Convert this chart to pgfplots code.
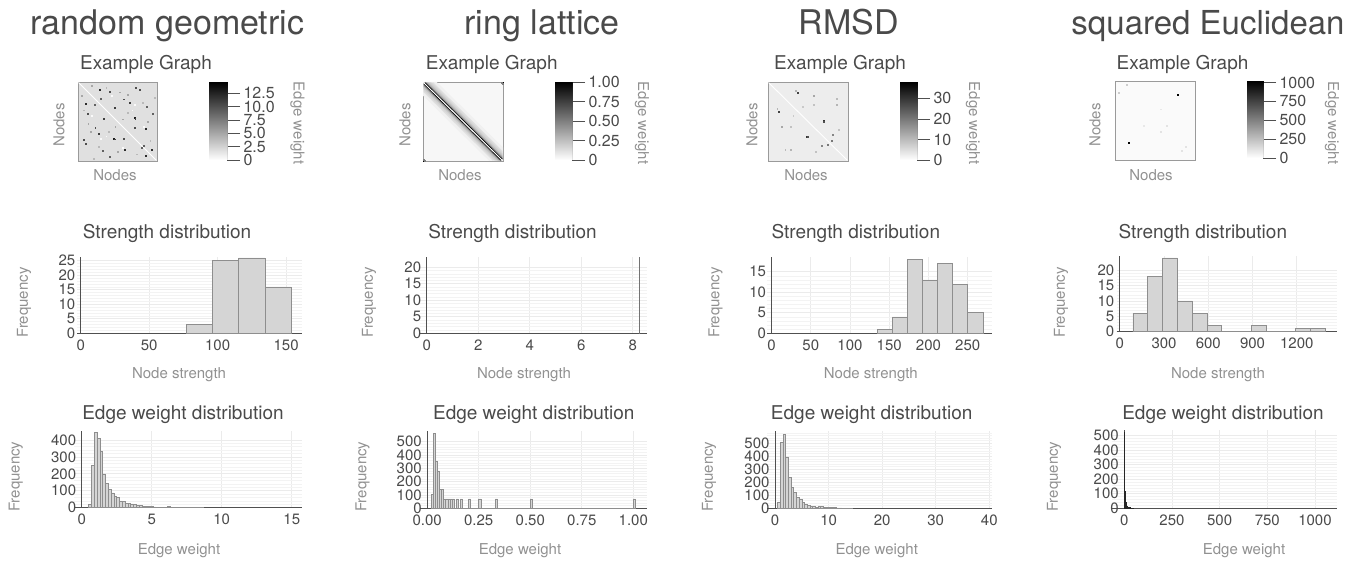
\documentclass[border=0pt]{standalone}
\usepackage{pgfplots}
\pgfplotsset{compat=1.18}
\usepackage{fontspec}
\setmainfont{TeX Gyre Heros}
\definecolor{ttl}{HTML}{4A4A4A}
\definecolor{lab}{HTML}{919191}
\definecolor{tkl}{HTML}{4A4A4A}
\definecolor{barfill}{HTML}{D5D5D5}
\definecolor{baredge}{HTML}{8E8E8E}
\definecolor{gridc}{HTML}{EBEBEB}
\definecolor{axc}{HTML}{505050}
\definecolor{frm}{HTML}{9A9A9A}
\newcommand{\fs}[1]{\fontsize{#1}{#1}\selectfont}
\pgfplotsset{
  every axis/.append style={/pgf/number format/assume math mode=true, /pgf/number format/1000 sep={}, scaled ticks=false},
  hist/.style={scale only axis, anchor=south west, axis lines=middle,
    hide obscured x ticks=false, hide obscured y ticks=false,
    axis line style={-, draw=axc, line width=0.9pt},
    every inner x axis line/.append style={-}, every inner y axis line/.append style={-},
    ymin=0, major tick length=0pt, minor tick length=0pt,
    xmajorgrids, ymajorgrids, yminorgrids, minor y tick num=4,
    major grid style={draw=gridc, line width=0.7pt},
    minor grid style={draw=gridc!60, line width=0.5pt},
    tick label style={font=\fs{15}, text=tkl},
    xticklabel style={yshift=-3pt}, yticklabel style={xshift=-2pt}},
  bars/.style={ybar interval, fill=barfill, draw=baredge, line width=0.6pt},
  heat/.style={scale only axis, anchor=south west, xmin=0, xmax=70, ymin=0, ymax=70, y dir=reverse, ticks=none,
    axis line style={draw=frm, line width=0.8pt}, colormap={bw}{color=(white) color=(black)}, point meta min=0},
  dots/.style={scatter, only marks, mark=square*, mark size=0.45pt, point meta=explicit,
    scatter/use mapped color={draw=mapped color, fill=mapped color}},
  cbar/.style={scale only axis, anchor=south west, xmin=0, xmax=1, ymin=0, axis x line=none, axis y line=right,
    y axis line style={draw=none}, tick align=outside, major tick length=13pt, tick style={draw=axc, line width=0.8pt},
    yticklabel style={font=\fs{16}, text=tkl}, colormap={bw}{color=(white) color=(black)}, point meta min=0},
}
\begin{document}
\begin{tikzpicture}
\path[use as bounding box] (0pt,0pt) rectangle (1355pt,565pt);
% ---------- main titles
\node[anchor=base, text=ttl, font=\fs{34}] at (167.5pt,530pt) {random geometric};
\node[anchor=base, text=ttl, font=\fs{34}] at (542pt,530pt) {ring lattice};
\node[anchor=base, text=ttl, font=\fs{34}] at (849pt,530pt) {RMSD};
\node[anchor=base, text=ttl, font=\fs{33}] at (1208pt,530pt) {squared Euclidean};
% ---------- subtitles
\foreach \cx in {146,491.7,840,1182.5}{\node[anchor=base, text=ttl, font=\fs{19}] at (\cx pt,495.7pt) {Example Graph};}
\foreach \cx in {167,512.5,855.8,1202.8}{\node[anchor=base, text=ttl, font=\fs{19}] at (\cx pt,326.7pt) {Strength distribution};}
\foreach \cx in {183,533.8,871.7,1223}{\node[anchor=base, text=ttl, font=\fs{19}] at (\cx pt,145pt) {Edge weight distribution};}
% ---------- axis labels
\foreach \cx in {59,405,752,1095}{\node[rotate=90, text=lab, font=\fs{15}] at (\cx pt,440pt) {Nodes};}
\foreach \cx in {115,460,806,1151}{\node[anchor=base, text=lab, font=\fs{15}] at (\cx pt,384pt) {Nodes};}
\foreach \cx in {297.5,642,973,1332}{\node[rotate=-90, text=lab, font=\fs{15}] at (\cx pt,442pt) {Edge weight};}
\foreach \cx in {24,369,715.5,1061}{\node[rotate=90, text=lab, font=\fs{15}] at (\cx pt,262.5pt) {Frequency};}
\foreach \cx in {179,524,870.8,1218}{\node[anchor=base, text=lab, font=\fs{15}] at (\cx pt,186pt) {Node strength};}
\foreach \cx in {15.8,362.5,709,1054}{\node[rotate=90, text=lab, font=\fs{15}] at (\cx pt,88.3pt) {Frequency};}
\foreach \cx in {179,520,876.7,1244}{\node[anchor=base, text=lab, font=\fs{15}] at (\cx pt,10.7pt) {Edge weight};}

% ================= heatmaps
\begin{axis}[heat, at={(78pt,404pt)}, width=79pt, height=79pt, point meta max=14.6, axis background/.style={fill=black!12}]
\addplot[white, line width=0.9pt] coordinates {(0.5,0.5) (69.5,69.5)};
\addplot[dots] table[meta=v] {
x y v
19.6 6.7 12
6.7 19.6 12
15.2 40.2 10
40.2 15.2 10
50.4 31.4 13
31.4 50.4 13
32.8 50.7 11
50.7 32.8 11
65.1 60.1 12
60.1 65.1 12
58.4 56.6 9
56.6 58.4 9
50.1 40.2 10
40.2 50.1 10
14.7 20.5 9
20.5 14.7 9
46 18.5 11
18.5 46 11
54.8 6.7 10
6.7 54.8 10
28.4 66 9
66 28.4 9
5 51.3 10
51.3 5 10
41.6 60 12
60 41.6 12
60.7 22 9
22 60.7 9
8.8 27.9 10
27.9 8.8 10
22.6 32.3 11
32.3 22.6 11
3 12 5
12 3 5
25 5 4
5 25 4
37 9 5
9 37 5
44 27 4
27 44 4
62 35 5
35 62 5
18 57 4
57 18 4
33 40 5
40 33 5
52 64 4
64 52 4
11 44 5
44 11 5
68 14 4
14 68 4
30 12 0.3
12 30 0.3
48 25 0.3
25 48 0.3
58 40 0.3
40 58 0.3
20 50 0.3
50 20 0.3
};
\end{axis}

\begin{axis}[heat, at={(423pt,404pt)}, width=80pt, height=79pt, point meta max=1, axis background/.style={fill=black!3}]
\addplot[fill=black!6, draw=none] coordinates {(0,0) (12,0) (70,58) (70,70) (58,70) (0,12)};
\addplot[black!12, line width=0.9pt] coordinates {(0.5,8.5) (61.5,69.5)};
\addplot[black!12, line width=0.9pt] coordinates {(8.5,0.5) (69.5,61.5)};
\addplot[black!14, line width=0.9pt] coordinates {(0.5,7.5) (62.5,69.5)};
\addplot[black!14, line width=0.9pt] coordinates {(7.5,0.5) (69.5,62.5)};
\addplot[black!17, line width=0.9pt] coordinates {(0.5,6.5) (63.5,69.5)};
\addplot[black!17, line width=0.9pt] coordinates {(6.5,0.5) (69.5,63.5)};
\addplot[black!20, line width=0.9pt] coordinates {(0.5,5.5) (64.5,69.5)};
\addplot[black!20, line width=0.9pt] coordinates {(5.5,0.5) (69.5,64.5)};
\addplot[black!25, line width=0.9pt] coordinates {(0.5,4.5) (65.5,69.5)};
\addplot[black!25, line width=0.9pt] coordinates {(4.5,0.5) (69.5,65.5)};
\addplot[black!33, line width=0.9pt] coordinates {(0.5,3.5) (66.5,69.5)};
\addplot[black!33, line width=0.9pt] coordinates {(3.5,0.5) (69.5,66.5)};
\addplot[black!50, line width=0.9pt] coordinates {(0.5,2.5) (67.5,69.5)};
\addplot[black!50, line width=0.9pt] coordinates {(2.5,0.5) (69.5,67.5)};
\addplot[black, line width=0.9pt] coordinates {(0.5,1.5) (68.5,69.5)};
\addplot[black, line width=0.9pt] coordinates {(1.5,0.5) (69.5,68.5)};
\addplot[white, line width=0.9pt] coordinates {(0.5,0.5) (69.5,69.5)};
\addplot[dots] table[meta=v] {
x y v
0.5 69.5 1
69.5 0.5 1
0.5 68.5 0.5
1.5 69.5 0.5
68.5 0.5 0.5
69.5 1.5 0.5
};
\end{axis}

\begin{axis}[heat, at={(768pt,404pt)}, width=80pt, height=79pt, point meta max=38, axis background/.style={fill=black!7}]
\addplot[white, line width=0.9pt] coordinates {(0.5,0.5) (69.5,69.5)};
\addplot[dots] table[meta=v] {
x y v
9.5 26.3 28
26.3 9.5 28
48.7 34.2 30
34.2 48.7 30
35 48.4 26
48.4 35 26
55.5 52.2 20
52.2 55.5 20
46.8 56.6 18
56.6 46.8 18
24 8 11
8 24 11
40 12 13
12 40 13
60 20 11
20 60 11
15 60 10
60 15 10
20 40 9
40 20 9
62 42 9
42 62 9
30 22 8
22 30 8
};
\end{axis}

\begin{axis}[heat, at={(1115pt,405pt)}, width=80pt, height=79pt, point meta max=1020, axis background/.style={fill=black!2}]
\addplot[dots] table[meta=v] {
x y v
54.8 12 1000
12 54.8 1000
10 3 200
3 10 200
40 45 110
45 40 110
58 62 110
62 58 110
25 40 90
40 25 90
};
\end{axis}

% ================= colorbars
\begin{axis}[cbar, at={(209pt,405pt)}, width=18pt, height=78pt, ymax=14.6, point meta max=14.6,
  ytick={0,2.5,5,7.5,10,12.5}, yticklabels={0,2.5,5.0,7.5,10.0,12.5}]
\addplot[surf, shader=interp, point meta=y, mesh/rows=2, mesh/cols=2] coordinates {(0,0) (1,0) (0,14.6) (1,14.6)};
\draw[axc, line width=0.8pt] (axis cs:1,0) -- (axis cs:1,12.5);
\end{axis}
\begin{axis}[cbar, at={(555pt,405pt)}, width=17pt, height=78pt, ymax=1, point meta max=1,
  ytick={0,0.25,0.5,0.75,1}, yticklabels={0,0.25,0.50,0.75,1.00}]
\addplot[surf, shader=interp, point meta=y, mesh/rows=2, mesh/cols=2] coordinates {(0,0) (1,0) (0,1) (1,1)};
\draw[axc, line width=0.8pt] (axis cs:1,0) -- (axis cs:1,1);
\end{axis}
\begin{axis}[cbar, at={(900pt,405pt)}, width=17pt, height=78pt, ymax=38, point meta max=38,
  ytick={0,10,20,30}, yticklabels={0,10,20,30}]
\addplot[surf, shader=interp, point meta=y, mesh/rows=2, mesh/cols=2] coordinates {(0,0) (1,0) (0,38) (1,38)};
\draw[axc, line width=0.8pt] (axis cs:1,0) -- (axis cs:1,30);
\end{axis}
\begin{axis}[cbar, at={(1247pt,407pt)}, width=16pt, height=77pt, ymax=1020, point meta max=1020,
  ytick={0,250,500,750,1000}, yticklabels={0,250,500,750,1000}]
\addplot[surf, shader=interp, point meta=y, mesh/rows=2, mesh/cols=2] coordinates {(0,0) (1,0) (0,1020) (1,1020)};
\draw[axc, line width=0.8pt] (axis cs:1,0) -- (axis cs:1,1000);
\end{axis}

% ================= strength histograms
\begin{axis}[hist, at={(77.3pt,231.7pt)}, width=224.4pt, height=76.6pt, xmin=-2.5, xmax=161.4, ymax=26.4,
  xtick={0,50,100,150}, ytick={0,5,10,15,20,25}]
\addplot[bars] coordinates {(76.9,3) (96.1,25) (115.3,26) (134.5,16) (153.7,0)};
\end{axis}
\begin{axis}[hist, at={(420pt,231.7pt)}, width=226.7pt, height=76.6pt, xmin=-0.26, xmax=8.54, ymax=23.2,
  xtick={0,2,4,6,8}, ytick={0,5,10,15,20}]
\addplot[bars, draw=black!55, line width=0.5pt] coordinates {(8.25,23) (8.27,0)};
\end{axis}
\begin{axis}[hist, at={(767.3pt,231.7pt)}, width=225pt, height=76.6pt, xmin=-5.35, xmax=281.3, ymax=18.65,
  xtick={0,50,100,150,200,250}, ytick={0,5,10,15}]
\addplot[bars] coordinates {(134.8,1) (154,4) (173.2,18) (192.4,13) (211.6,17) (230.8,12) (250,5) (269.2,0)};
\end{axis}
\begin{axis}[hist, at={(1116.7pt,233.3pt)}, width=220pt, height=76pt, xmin=-21, xmax=1471, ymax=24.7,
  xtick={0,300,600,900,1200}, ytick={0,5,10,15,20}]
\addplot[bars] coordinates {(89,6) (189.3,18) (289.6,24) (389.9,10) (490.2,6) (590.5,2) (690.8,0) (891.4,2) (991.7,0) (1192.3,1) (1292.6,1) (1392.9,0)};
\end{axis}

% ================= edge weight histograms
\begin{axis}[hist, at={(74pt,57.3pt)}, width=227.7pt, height=76.7pt, xmin=-0.55, xmax=15.71, ymax=453,
  xtick={0,5,10,15}, ytick={0,100,200,300,400}]
\addplot[bars] coordinates {(0.5,20) (0.7,250) (0.9,445) (1.1,410) (1.3,335) (1.5,200) (1.7,145) (1.9,110) (2.1,88) (2.3,70) (2.5,62) (2.7,40) (2.9,35) (3.1,26) (3.3,24) (3.5,22) (3.7,18) (3.9,14) (4.1,12) (4.3,10) (4.5,8) (4.7,7) (4.9,6) (5.1,5) (5.3,4) (5.5,4) (5.7,3) (5.9,3) (6.1,7) (6.3,2) (6.5,1) (6.7,1) (6.9,0) (7.1,1) (7.3,0) (7.5,1) (7.7,1) (7.9,0) (8.1,2) (8.3,0) (8.5,1) (8.7,0)};
\end{axis}
\begin{axis}[hist, at={(420pt,56.7pt)}, width=226.7pt, height=77.3pt, xmin=-0.035, xmax=1.065, ymax=580,
  xtick={0,0.25,0.5,0.75,1}, xticklabels={0.00,0.25,0.50,0.75,1.00}, ytick={0,100,200,300,400,500}]
\addplot[bars] coordinates {(0.02,105) (0.03,560) (0.04,350) (0.05,280) (0.06,140) (0.07,140) (0.08,70) (0.09,70) (0.10,70) (0.11,70) (0.12,70) (0.13,0) (0.14,70) (0.15,0) (0.16,70) (0.17,0) (0.20,70) (0.21,0) (0.25,70) (0.26,0) (0.33,70) (0.34,0) (0.50,70) (0.51,0) (1.00,70) (1.01,0)};
\end{axis}
\begin{axis}[hist, at={(767.3pt,56.7pt)}, width=224.4pt, height=77.3pt, xmin=-1.44, xmax=40.45, ymax=595,
  xtick={0,10,20,30,40}, ytick={0,100,200,300,400,500,600}]
\addplot[bars] coordinates {(0.5,50) (1,510) (1.5,570) (2,390) (2.5,240) (3,160) (3.5,120) (4,85) (4.5,70) (5,45) (5.5,30) (6,22) (6.5,16) (7,12) (7.5,10) (8,12) (8.5,14) (9,8) (9.5,6) (10,5) (10.5,4) (11,4) (11.5,3) (12,3) (12.5,2) (13,2) (13.5,1) (14,1) (14.5,0)};
\end{axis}
\begin{axis}[hist, at={(1111.7pt,56.7pt)}, width=225pt, height=78.3pt, xmin=-66, xmax=1114, ymax=539,
  xtick={0,250,500,750,1000}, ytick={0,100,200,300,400,500}]
\addplot[bars, draw=black!85] coordinates {(0,520) (2,120) (4,60) (6,40) (8,30) (10,22) (12,17) (14,13) (16,10) (18,8) (20,7) (22,6) (24,5) (26,4) (28,4) (30,3) (32,3) (34,2) (36,2) (38,2) (40,1) (42,1) (44,1) (46,0)};
\end{axis}
\end{tikzpicture}
\end{document}
